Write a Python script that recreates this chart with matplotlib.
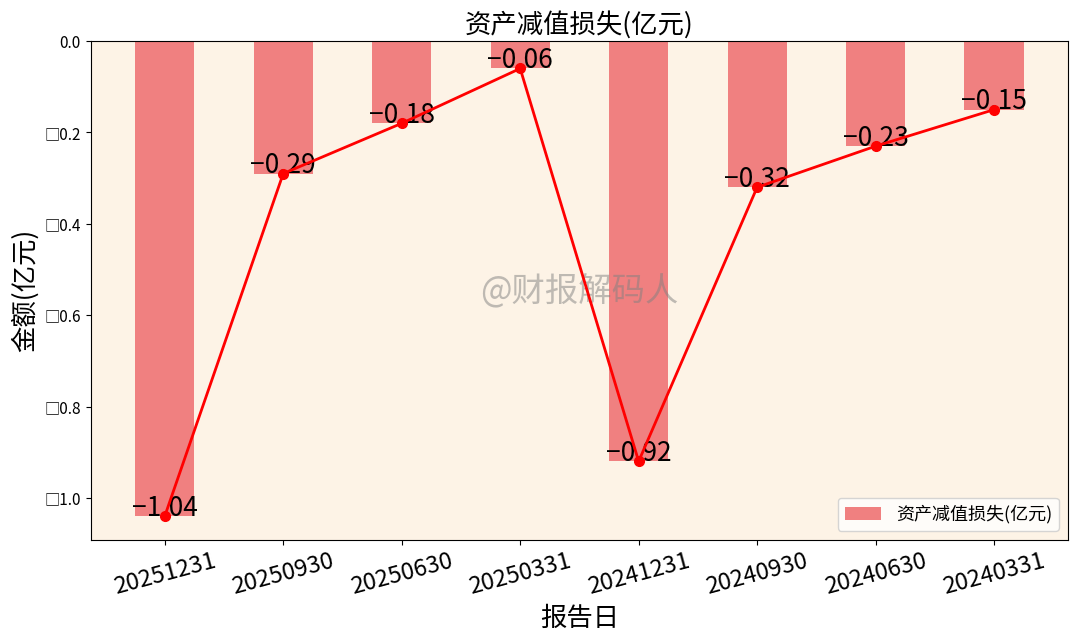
import matplotlib
matplotlib.use("Agg")
import matplotlib.pyplot as plt
from matplotlib.ticker import FuncFormatter

plt.rcParams['font.family'] = ['Noto Sans CJK SC', 'DejaVu Sans']

dates = ["20251231", "20250930", "20250630", "20250331",
         "20241231", "20240930", "20240630", "20240331"]
values = [-1.04, -0.29, -0.18, -0.06, -0.92, -0.32, -0.23, -0.15]
title = "资产减值损失(亿元)"

fig, ax = plt.subplots(figsize=(10.8, 6.42), dpi=100)
fig.subplots_adjust(left=0.084, right=0.989, top=0.936, bottom=0.159)
ax.set_facecolor('#FDF3E6')

x = list(range(len(dates)))
ax.bar(x, values, width=0.5, color='#F08080', label=title)
ax.plot(x, values, color='red', marker='o', linewidth=2, markersize=7, zorder=4)
for xi, v in zip(x, values):
    ax.annotate(f"{v:.2f}".replace("-", "\u2212"), (xi, v), xytext=(0, -4),
                textcoords='offset points', ha='center', va='bottom',
                fontsize=19, color='black', zorder=3)

ax.set_ylim(min(values) * 1.05, 0)
ax.set_xticks(x)
ax.set_xticklabels(dates, rotation=15, fontsize=17)
ax.yaxis.set_major_formatter(FuncFormatter(
    lambda v, p: ("□" if v < -1e-9 else "") + f"{abs(v):.1f}"))
ax.tick_params(axis='y', labelsize=11)

ax.set_title(title, fontsize=19)
ax.set_xlabel("报告日", fontsize=19)
ax.set_ylabel("金额(亿元)", fontsize=19)
ax.text(0.5, 0.5, "@财报解码人", transform=ax.transAxes, ha='center', va='center',
        fontsize=24, color='gray', alpha=0.5)
ax.legend(loc='lower right', fontsize=13)

fig.savefig("out.png", dpi=100)
